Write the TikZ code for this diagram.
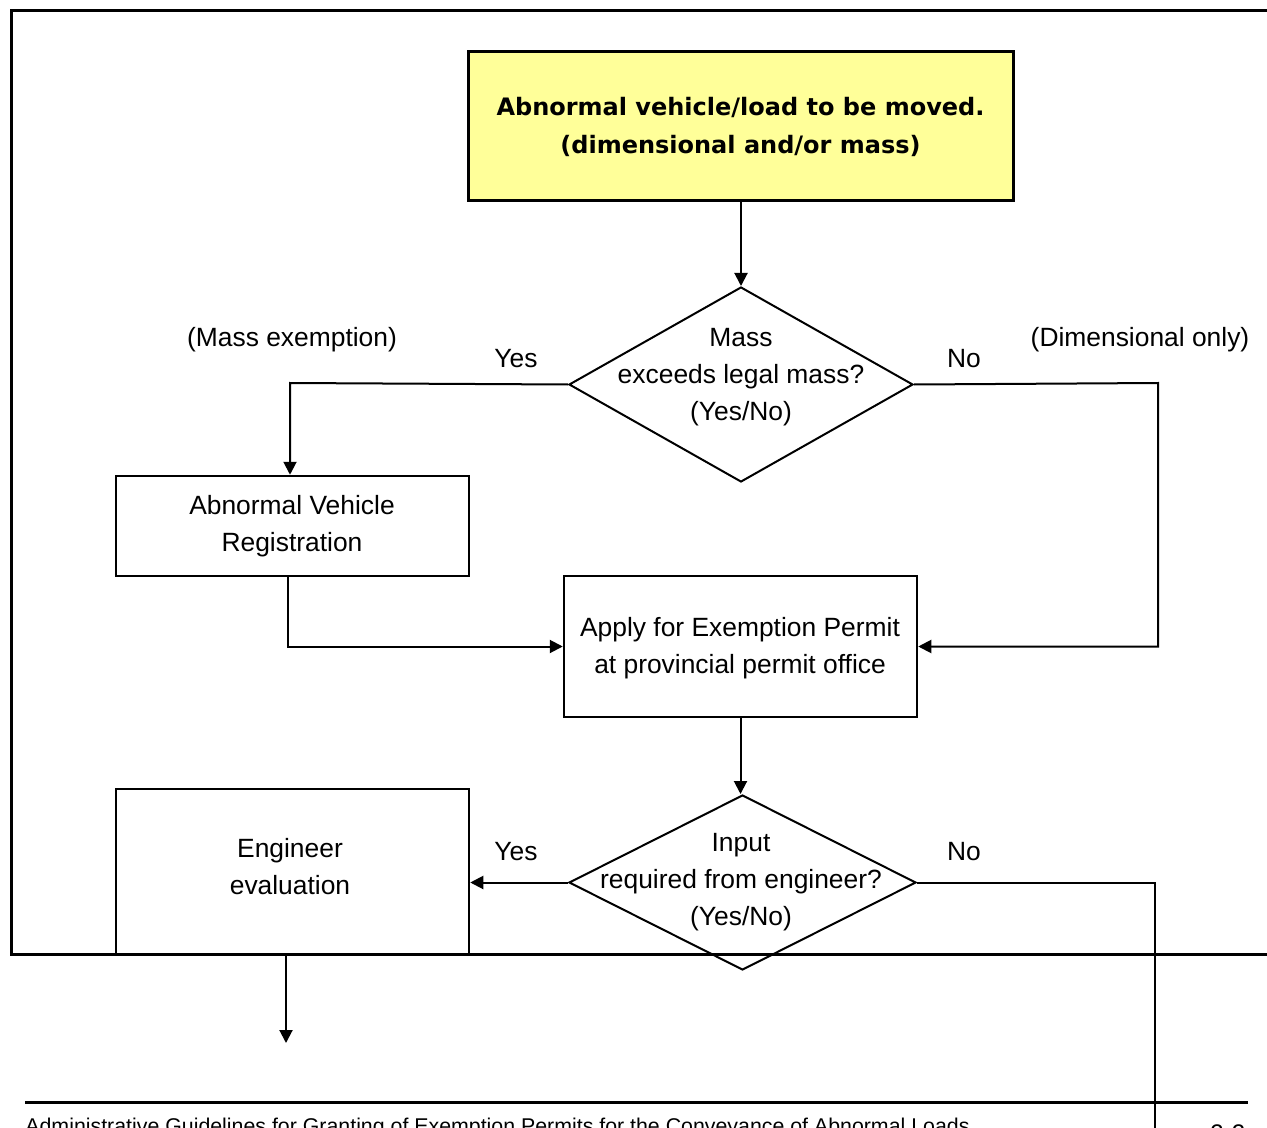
\documentclass[tikz,border=0pt]{standalone}
\usepackage{fontspec}
\setmainfont{Liberation Sans}
\newfontfamily\vfont{DejaVu Sans}
\usetikzlibrary{shapes.geometric,arrows.meta}
\definecolor{lightyel}{HTML}{FFFF99}
\tikzset{
  txt/.style={font=\fontsize{13.2}{18.5}\selectfont, align=center, inner sep=0pt},
  lbl/.style={font=\fontsize{13.2}{18.5}\selectfont, inner sep=0pt},
  boxx/.style={draw, line width=1.25pt, rectangle, inner sep=0pt},
  decision/.style={draw, line width=1pt, diamond, inner sep=0pt},
  conn/.style={line width=1pt},
  arr/.style={line width=1pt, -{Triangle[length=6.5pt,width=6.5pt]}},
  frame/.style={line width=1.5pt}
}
\begin{document}
\begin{tikzpicture}[x=0.5pt,y=-0.5pt]
\useasboundingbox (0,0) rectangle (1267,1128);
\clip (0,0) rectangle (1267,1128);
% outer frame
\draw[frame] (1267,11) -- (11,11) -- (11,954) -- (1267,954);
% top box
\node[boxx, line width=1.5pt, fill=lightyel, minimum width=272.5pt, minimum height=74.5pt,
      font=\vfont\bfseries\fontsize{12}{19}\selectfont, align=center] (top) at (740.5,126.5)
  {Abnormal vehicle/load to be moved.\\(dimensional and/or mass)};
% decision 1
\node[decision, minimum width=172pt, minimum height=97.5pt] (d1) at (741,384.5) {};
\node[txt] (d1t) at (741,377) {Mass\\exceeds legal mass?\\(Yes/No)};
% labels
\node[lbl] (yes1) at (516,358.5) {Yes};
\node[lbl] (no1) at (964,358.5) {No};
\node[lbl] (mex) at (292,339.5) {(Mass exemption)};
\node[lbl] (donly) at (1140,339.5) {(Dimensional only)};
% box 2
\node[boxx, minimum width=176.5pt, minimum height=50pt] (box2) at (292.5,526) {};
\node[txt] (box2t) at (292,526.5) {Abnormal Vehicle\\Registration};
% box 3
\node[boxx, minimum width=176.5pt, minimum height=70.5pt] (box3) at (740.5,646.5) {};
\node[txt] (box3t) at (740,648.5) {Apply for Exemption Permit\\at provincial permit office};
% decision 2
\node[decision, minimum width=173.5pt, minimum height=87.5pt] (d2) at (742.5,882.5) {};
\node[txt] (d2t) at (741,882.5) {Input\\required from engineer?\\(Yes/No)};
\node[lbl] (yes2) at (516,851.5) {Yes};
\node[lbl] (no2) at (964,851.5) {No};
% box 4
\node[boxx, minimum width=176.5pt, minimum height=82.5pt] (box4) at (292.5,871.5) {};
\node[txt] (box4t) at (290,867) {Engineer\\evaluation};
% coordinates
\coordinate (c1) at (1158,383);
\coordinate (c2) at (1155,1140);
\coordinate (c3) at (286,1043);
\coordinate (c4) at (290,383);
\coordinate (c5) at (288,576);
% connectors
\draw[arr] (top.south -| d1.north) -- (d1.north);
\draw[arr] (d1.west) -- (c4) -- (c4 |- box2.north);
\draw[arr] (c5) |- (box3.west);
\draw[arr] (d1.east) -- (c1) |- (box3.east);
\draw[arr] (box3.south) -- (box3.south |- d2.north);
\draw[arr] (d2.west) -- (d2.west -| box4.east);
\draw[conn] (d2.east) -| (c2);
\draw[arr] (c3 |- box4.south) -- (c3);
% bottom frame line redrawn over box 4
\draw[frame] (11,954) -- (1267,954);
% footer
\coordinate (f1) at (25,1102);
\coordinate (f2) at (1248,1102);
\draw[frame] (f1) -- (f2);
\node[anchor=base west, inner sep=0pt, font=\fontsize{10.67}{13}\selectfont] (foot) at (25,1133.5)
  {Administrative Guidelines for Granting of Exemption Permits for the Conveyance of Abnormal Loads};
\node[anchor=base west, inner sep=0pt, font=\fontsize{12}{14}\selectfont] (pg) at (1210,1141) {2-2};
\end{tikzpicture}
\end{document}
